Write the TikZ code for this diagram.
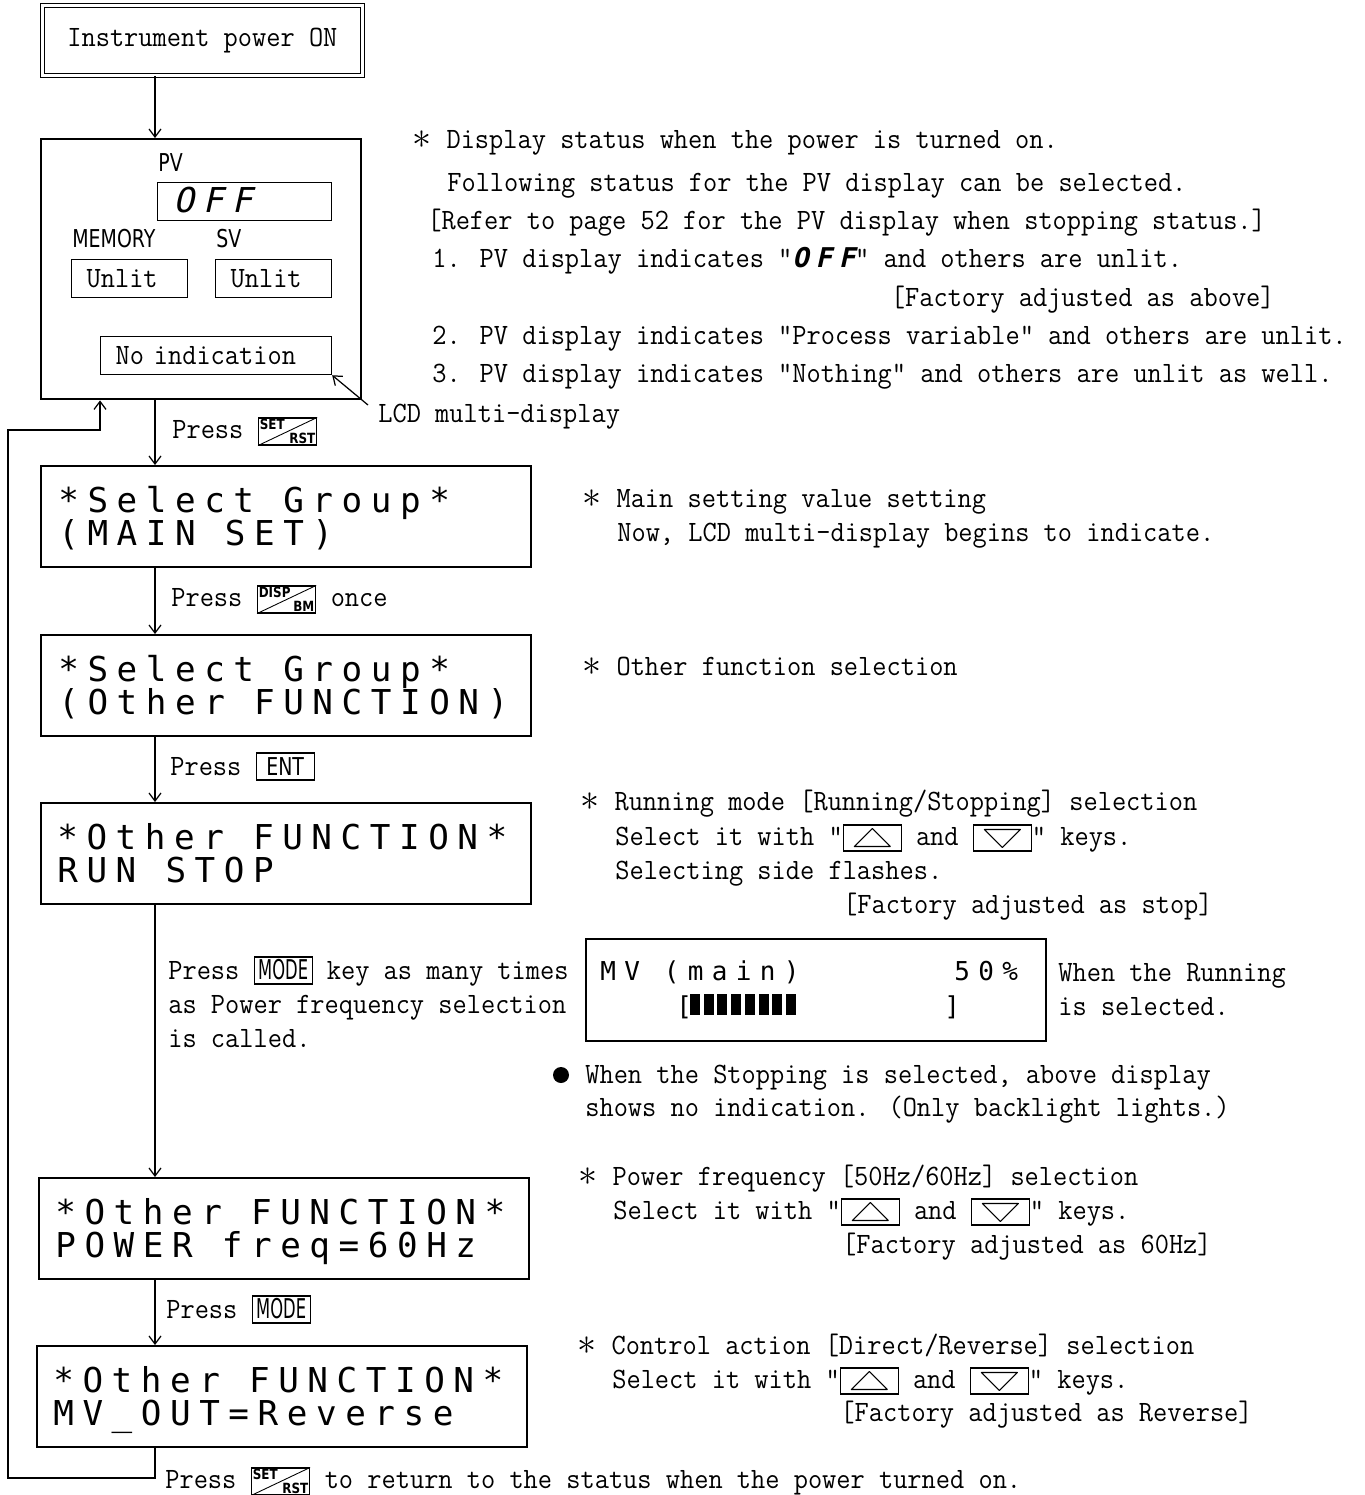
\documentclass[tikz,border=0pt]{standalone}
\usepackage{fontspec}
\usetikzlibrary{arrows.meta}
\newfontfamily\notefont{Latin Modern Mono}[FakeStretch=0.935]
\newfontfamily\lcdfont{DejaVu Sans Mono}[LetterSpace=25]
\newfontfamily\mvfont{DejaVu Sans Mono}[LetterSpace=32]
\newfontfamily\segfont{DejaVu Sans Mono}[FakeSlant=0.22,LetterSpace=25]
\newfontfamily\condfont{DejaVu Sans}[FakeStretch=0.77]
\newfontfamily\modefont{DejaVu Sans}[FakeStretch=0.6]
\newfontfamily\keyfont{DejaVu Sans}[FakeStretch=0.85]

\newcommand\notesize{\fontsize{16.8}{20}\selectfont\notefont}
\newcommand\lcdsize{\fontsize{19.5}{22}\selectfont}
\newcommand\mvsize{\fontsize{14.8}{17}\selectfont}
\newcommand\keytiny{\fontsize{8}{8}\selectfont\keyfont\bfseries}
\newcommand\segbold{\fontsize{15.5}{17}\selectfont\segfont\bfseries}
\newcommand\astr{\makebox[0.4cm]{\scalebox{1.25}{$\ast$}}}

% keys drawn inline in the text
\newcommand\slashkey[2]{\tikz[baseline={([yshift=-0.13cm]k.center)}]{%
  \node[draw,line width=0.6pt,inner sep=0,minimum width=1.16cm,minimum height=0.54cm] (k) {};
  \draw[line width=0.5pt] (k.south west) -- (k.north east);
  \node[anchor=north west,inner sep=0.8pt,font=\keytiny] at (k.north west) {#1};
  \node[anchor=south east,inner sep=0.8pt,font=\keytiny] at (k.south east) {#2};}}
\newcommand\upkey{\tikz[baseline={([yshift=-0.14cm]k.center)}]{%
  \node[draw,line width=0.6pt,inner sep=0,minimum width=1.16cm,minimum height=0.52cm] (k) {};
  \draw[line width=0.6pt,line join=round] ([shift={(-0.36cm,-0.17cm)}]k.center) -- ([shift={(0.36cm,-0.17cm)}]k.center)
    -- ([shift={(0cm,0.19cm)}]k.center) -- cycle;}}
\newcommand\downkey{\tikz[baseline={([yshift=-0.14cm]k.center)}]{%
  \node[draw,line width=0.6pt,inner sep=0,minimum width=1.16cm,minimum height=0.52cm] (k) {};
  \draw[line width=0.6pt,line join=round] ([shift={(-0.36cm,0.17cm)}]k.center) -- ([shift={(0.36cm,0.17cm)}]k.center)
    -- ([shift={(0cm,-0.19cm)}]k.center) -- cycle;}}
\newcommand\namekey[2]{\tikz[baseline=(k.base)]\node[draw,line width=0.6pt,inner xsep=0pt,inner ysep=0.1cm,
  minimum width=1.16cm,text height=0.34cm,text depth=0pt,font=#1] (k) {#2};}

\begin{document}
\begin{tikzpicture}[x=0.02cm,y=-0.02cm,
    flowbox/.style={draw,line width=1.4pt,anchor=north west,inner sep=0,minimum width=9.8cm,minimum height=2.02cm},
    smallbox/.style={draw,line width=0.7pt,anchor=north west,inner xsep=0.3cm,inner ysep=0,align=left,
      text height=0.56cm,text depth=0.2cm,font=\notesize},
    note/.style={anchor=base west,inner sep=0,font=\notesize},
    noteR/.style={anchor=base east,inner sep=0,font=\notesize},
    lcd/.style={anchor=base west,inner sep=0,font=\lcdsize\lcdfont},
    mv/.style={anchor=base west,inner sep=0,font=\mvsize\mvfont},
    tag/.style={anchor=base west,inner sep=0,font=\fontsize{14}{16}\selectfont\condfont},
    arrow/.style={-{Straight Barb[length=1.6mm,width=2.4mm]},line width=0.7pt}
  ]
\useasboundingbox (0,0) rectangle (1365,1495);
\coordinate (spine) at (155,0);

% power on and the start display
\node[draw,double,line width=0.5pt,double distance=1.8pt,anchor=north west,minimum width=6.4cm,
  minimum height=1.4cm,font=\notesize] (start) at (42,5) {Instrument power ON};
\node[draw,line width=1.4pt,anchor=north west,inner sep=0,minimum width=6.4cm,minimum height=5.2cm] (pv) at (40,138) {};
\node[tag] (pvtag) at (158,171) {PV};
\node[draw,line width=0.7pt,anchor=north west,inner sep=0,minimum width=3.48cm,minimum height=0.76cm] (pvdisp) at (157,182) {};
\node[anchor=base west,inner sep=0,font=\fontsize{19.5}{22}\selectfont\segfont] (pvoff) at (173,212) {OFF};
\node[tag] (memtag) at (72,247) {MEMORY};
\node[tag] (svtag) at (216,247) {SV};
\node[smallbox,text width=1.72cm] (memval) at (71,259) {Unlit};
\node[smallbox,text width=1.72cm] (svval) at (215,259) {Unlit};
\node[smallbox,text width=4.02cm] (noind) at (100,336) {No indication};
\node[note] (lcdlbl) at (378,422) {LCD multi-display};
\coordinate (lcdtip) at (368,405);
\draw[arrow] (lcdtip) -- (noind.south east);

% LCD boxes
\node[flowbox] (selmain) at (40,465) {};
\node[lcd] (selmainA) at (58,512) {*Select Group*};
\node[lcd] (selmainB) at (58,545) {(MAIN SET)};
\node[flowbox] (selother) at (40,634) {};
\node[lcd] (selotherA) at (58,681) {*Select Group*};
\node[lcd] (selotherB) at (58,714) {(Other FUNCTION)};
\node[flowbox] (runstop) at (40,802) {};
\node[lcd] (runstopA) at (57,849) {*Other FUNCTION*};
\node[lcd] (runstopB) at (57,882) {RUN STOP};
\node[flowbox] (powfreq) at (38,1177) {};
\node[lcd] (powfreqA) at (55,1224) {*Other FUNCTION*};
\node[lcd] (powfreqB) at (55,1257) {POWER freq=60Hz};
\node[flowbox] (mvout) at (36,1345) {};
\node[lcd] (mvoutA) at (53,1392) {*Other FUNCTION*};
\node[lcd] (mvoutB) at (53,1425) {MV\_OUT=Reverse};

% connectors
\draw[arrow] (start.south -| spine) -- (pv.north -| spine);
\draw[arrow] (pv.south -| spine) -- (selmain.north -| spine);
\draw[arrow] (selmain.south -| spine) -- (selother.north -| spine);
\draw[arrow] (selother.south -| spine) -- (runstop.north -| spine);
\draw[arrow] (runstop.south -| spine) -- (powfreq.north -| spine);
\draw[arrow] (powfreq.south -| spine) -- (mvout.north -| spine);
\coordinate (backA) at (8,1478);
\coordinate (backB) at (100,430);
\draw[arrow] (mvout.south -| spine) |- (backA) |- (backB) -- (pv.south -| backB);

% key presses
\node[note] (pressset) at (172,438) {Press \slashkey{SET}{RST}};
\node[note] (pressdisp) at (171,606) {Press \slashkey{DISP}{BM} once};
\node[note] (pressent) at (170,775) {Press \namekey{\fontsize{14}{16}\selectfont\condfont}{ENT}};
\node[note] (modeA) at (168,979) {Press \namekey{\fontsize{15.5}{16}\selectfont\modefont}{MODE} key as many times};
\node[note] (modeB) at (168,1013) {as Power frequency selection};
\node[note] (modeC) at (168,1047) {is called.};
\node[note] (pressmode) at (166,1318) {Press \namekey{\fontsize{15.5}{16}\selectfont\modefont}{MODE}};
\node[note] (pressback) at (165,1488) {Press \slashkey{SET}{RST} to return to the status when the power turned on.};

% notes on the right
\node[note] (nA1) at (412,148) {\astr{} Display status when the power is turned on.};
\node[note] (nA2) at (447,191) {Following status for the PV display can be selected.};
\node[note] (nA3) at (427,229) {[Refer to page 52 for the PV display when stopping status.]};
\node[note] (nA4) at (432,267) {1. PV display indicates "{\segbold OFF}" and others are unlit.};
\node[noteR] (nA5) at (1275,306) {[Factory adjusted as above]};
\node[note] (nA6) at (432,344) {2. PV display indicates "Process variable" and others are unlit.};
\node[note] (nA7) at (432,382) {3. PV display indicates "Nothing" and others are unlit as well.};

\node[note] (nB1) at (582,507) {\astr{} Main setting value setting};
\node[note] (nB2) at (617,541) {Now, LCD multi-display begins to indicate.};
\node[note] (nC1) at (582,675) {\astr{} Other function selection};

\node[note] (nD1) at (580,810) {\astr{} Running mode [Running/Stopping] selection};
\node[note] (nD2) at (615,845) {Select it with "\upkey{} and \downkey{}" keys.};
\node[note] (nD3) at (615,879) {Selecting side flashes.};
\node[noteR] (nD4) at (1213,913) {[Factory adjusted as stop]};

% MV display
\node[draw,line width=1.4pt,anchor=north west,inner sep=0,minimum width=9.2cm,minimum height=2.04cm] (mvdisp) at (585,938) {};
\node[mv] (mvname) at (600,980) {MV (main)};
\node[mv] (mvpct) at (954,980) {50\%};
\node[mv] (mvopen) at (676,1015) {[};
\node[mv] (mvclose) at (944,1015) {]};
\foreach \i in {0,...,7}
  \fill (690+\i*13.7,994) rectangle +(10,21);
\node[note] (runA) at (1058,981) {When the Running};
\node[note] (runB) at (1058,1015) {is selected.};
\node[circle,fill,inner sep=0,minimum size=0.32cm] (dot) at (561,1075) {};
\node[note] (stopA) at (585,1083) {When the Stopping is selected, above display};
\node[note] (stopB) at (585,1116) {shows no indication. (Only backlight lights.)};

\node[note] (nE1) at (578,1185) {\astr{} Power frequency [50Hz/60Hz] selection};
\node[note] (nE2) at (613,1219) {Select it with "\upkey{} and \downkey{}" keys.};
\node[noteR] (nE3) at (1212,1253) {[Factory adjusted as 60Hz]};

\node[note] (nF1) at (577,1354) {\astr{} Control action [Direct/Reverse] selection};
\node[note] (nF2) at (612,1388) {Select it with "\upkey{} and \downkey{}" keys.};
\node[noteR] (nF3) at (1253,1421) {[Factory adjusted as Reverse]};
\end{tikzpicture}
\end{document}
